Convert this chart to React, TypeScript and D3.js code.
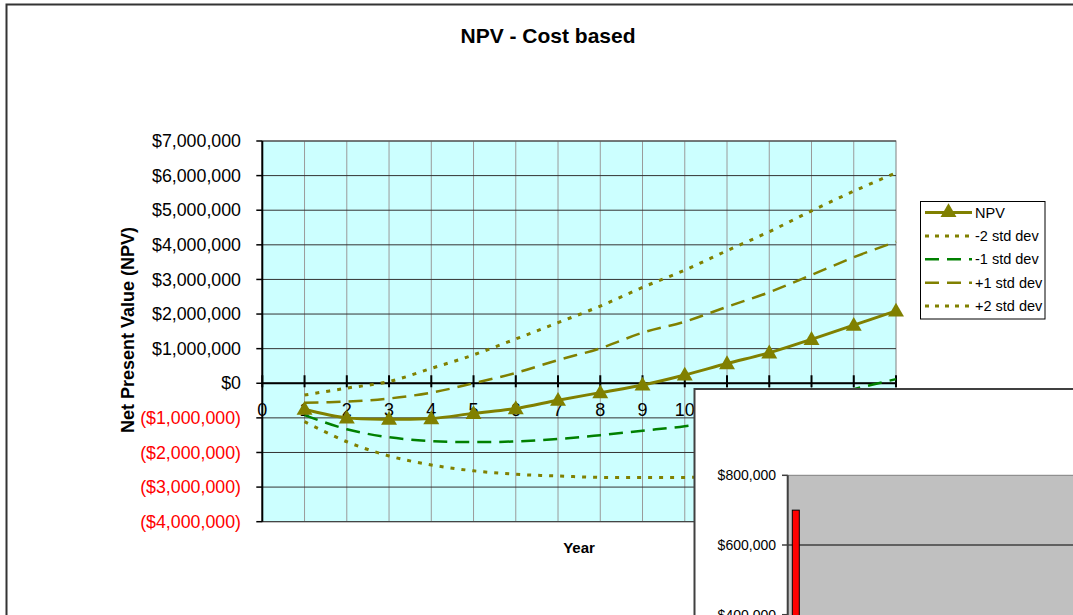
import React from "react";
import * as d3 from "d3";

const years = [1, 2, 3, 4, 5, 6, 7, 8, 9, 10, 11, 12, 13, 14, 15];
const npv = [-0.75, -1.0, -1.04, -1.02, -0.87, -0.73, -0.49, -0.27, -0.05, 0.24, 0.57, 0.88, 1.27, 1.68, 2.09].map((v) => v * 1e6);
const minus2 = [-1.11, -1.69, -2.1, -2.36, -2.53, -2.63, -2.68, -2.72, -2.72, -2.72, -2.7, -2.66, -2.6, -2.52, -2.42].map((v) => v * 1e6);
const minus1 = [-0.92, -1.33, -1.56, -1.67, -1.7, -1.68, -1.61, -1.5, -1.37, -1.24, -1.04, -0.79, -0.49, -0.17, 0.12].map((v) => v * 1e6);
const plus1 = [-0.56, -0.53, -0.44, -0.27, 0.0, 0.3, 0.67, 1.01, 1.46, 1.78, 2.21, 2.63, 3.13, 3.64, 4.09].map((v) => v * 1e6);
const plus2 = [-0.34, -0.14, 0.05, 0.43, 0.82, 1.28, 1.75, 2.23, 2.77, 3.27, 3.83, 4.38, 4.98, 5.55, 6.08].map((v) => v * 1e6);

const yTicks = [-4, -3, -2, -1, 0, 1, 2, 3, 4, 5, 6, 7].map((v) => v * 1e6);
const xTicks = [0, 1, 2, 3, 4, 5, 6, 7, 8, 9, 10, 11, 12, 13, 14, 15];

const legendNames = ["NPV", "-2 std dev", "-1 std dev", "+1 std dev", "+2 std dev"];

// overlay (second chart, partially visible)
const overlayValues = [700000];
const overlayTicks = [400000, 600000, 800000];

const OLIVE = "#808000";
const GREEN = "#008000";
const FONT = "'Liberation Sans', Arial, sans-serif";

const fmtMoney = (v: number) => {
  const f = d3.format(",.0f");
  if (v < 0) return `($${f(-v)})`;
  return `$${f(v)}`;
};

export default function App() {
  const x = d3.scaleLinear().domain([0, 15]).range([262.3, 896]);
  const y = d3.scaleLinear().domain([-4e6, 7e6]).range([521.7, 141]);

  const line = (vals: number[]) =>
    d3
      .line<number>()
      .x((_, i) => x(years[i]))
      .y((d) => y(d))
      .curve(d3.curveCatmullRom.alpha(0.5))(vals) as string;

  const series = [
    { name: legendNames[0], vals: npv, color: OLIVE, dash: "", w: 3, marker: true },
    { name: legendNames[1], vals: minus2, color: OLIVE, dash: "4,7", w: 3, marker: false },
    { name: legendNames[2], vals: minus1, color: GREEN, dash: "14,8", w: 2.5, marker: false },
    { name: legendNames[3], vals: plus1, color: OLIVE, dash: "14,8", w: 2.5, marker: false },
    { name: legendNames[4], vals: plus2, color: OLIVE, dash: "4,7", w: 3, marker: false },
  ];

  const tri = d3.symbol().type(d3.symbolTriangle).size(110)() as string;

  // overlay scales
  const oy = d3.scaleLinear().domain([400000, 800000]).range([614.7, 475.3]);
  const ox = d3.scaleLinear().domain([0, 1]).range([787.7, 830]);

  const plotL = x(0), plotR = x(15), plotT = y(7e6), plotB = y(-4e6);

  return (
    <svg
      width={1073}
      height={615}
      style={{ position: "fixed", left: 0, top: 0, background: "#fff" }}
      fontFamily={FONT}
    >
      {/* outer chart border */}
      <rect x={6.5} y={4.5} width={1100} height={700} fill="#fff" stroke="#333" strokeWidth={2} />

      <text x={548} y={43} textAnchor="middle" fontSize={21} fontWeight="bold">
        NPV - Cost based
      </text>

      {/* plot area */}
      <rect x={plotL} y={plotT} width={plotR - plotL} height={plotB - plotT} fill="#CCFFFF" stroke="#808080" strokeWidth={1} />

      {/* vertical gridlines */}
      {xTicks.slice(1, 15).map((t) => (
        <line key={"vg" + t} x1={x(t)} x2={x(t)} y1={plotT} y2={plotB} stroke="#9a9a9a" strokeWidth={1} />
      ))}
      {/* horizontal gridlines */}
      {yTicks.map((t) => (
        <line key={"hg" + t} x1={plotL} x2={plotR} y1={y(t)} y2={y(t)} stroke="#333" strokeWidth={1} />
      ))}

      {/* y axis */}
      <line x1={plotL} x2={plotL} y1={plotT} y2={plotB} stroke="#000" strokeWidth={2} />
      {yTicks.map((t) => (
        <g key={"yt" + t}>
          <line x1={plotL - 6} x2={plotL} y1={y(t)} y2={y(t)} stroke="#000" strokeWidth={1.5} />
          <text
            x={241}
            y={y(t)}
            dy="0.35em"
            textAnchor="end"
            fontSize={17.8}
            fill={t < 0 ? "#FF0000" : "#000"}
          >
            {fmtMoney(t)}
          </text>
        </g>
      ))}

      {/* x axis at zero */}
      <line x1={plotL} x2={plotR} y1={y(0)} y2={y(0)} stroke="#000" strokeWidth={2} />
      {xTicks.map((t) => (
        <g key={"xt" + t}>
          <line x1={x(t)} x2={x(t)} y1={y(0) - 8} y2={y(0) + 4} stroke="#000" strokeWidth={2} />
          <text x={x(t)} y={410} dy="0.35em" textAnchor="middle" fontSize={18} fill="#000">
            {t}
          </text>
        </g>
      ))}

      {/* series */}
      {series
        .slice()
        .reverse()
        .map((s) => (
          <path
            key={s.name}
            d={line(s.vals)}
            fill="none"
            stroke={s.color}
            strokeWidth={s.w}
            strokeDasharray={s.dash || undefined}
          />
        ))}
      {npv.map((v, i) => (
        <path key={"m" + i} d={tri} transform={`translate(${x(years[i])},${y(v) + 1})`} fill={OLIVE} />
      ))}

      {/* axis titles */}
      <text
        transform={`translate(128,330) rotate(-90)`}
        textAnchor="middle"
        dy="0.35em"
        fontSize={18}
        fontWeight="bold"
      >
        Net Present Value (NPV)
      </text>
      <text x={579} y={548} dy="0.35em" textAnchor="middle" fontSize={15} fontWeight="bold">
        Year
      </text>

      {/* legend */}
      <rect x={920.5} y={201.5} width={124.5} height={117.5} fill="#fff" stroke="#000" strokeWidth={1} />
      {series.map((s, i) => {
        const ly = 212.5 + i * 23.4;
        return (
          <g key={"lg" + s.name}>
            <line
              x1={925}
              x2={972}
              y1={ly}
              y2={ly}
              stroke={s.color}
              strokeWidth={s.w}
              strokeDasharray={s.marker ? undefined : s.dash === "4,7" ? "4,6" : "14,8"}
            />
            {s.marker && <path d={tri} transform={`translate(948.5,${ly})`} fill={OLIVE} />}
            <text x={975} y={ly} dy="0.35em" fontSize={14.5} fill="#000">
              {s.name}
            </text>
          </g>
        );
      })}

      {/* overlay second chart */}
      <rect x={694.5} y={389} width={500} height={400} fill="#fff" stroke="#404040" strokeWidth={2} />
      <rect x={787.7} y={oy(800000)} width={400} height={300} fill="#C0C0C0" stroke="#808080" strokeWidth={1} />
      <line x1={787.7} x2={1100} y1={oy(600000)} y2={oy(600000)} stroke="#000" strokeWidth={1} />
      {overlayValues.map((v, i) => (
        <rect
          key={"ob" + i}
          x={ox(i) + 4.6}
          y={oy(v)}
          width={7}
          height={oy(0) - oy(v)}
          fill="#FF0000"
          stroke="#000"
          strokeWidth={1}
        />
      ))}
      <line x1={787.7} x2={787.7} y1={oy(800000)} y2={700} stroke="#404040" strokeWidth={2} />
      {overlayTicks.map((t) => (
        <g key={"ot" + t}>
          <line x1={782} x2={787.7} y1={oy(t)} y2={oy(t)} stroke="#404040" strokeWidth={1.5} />
          <text x={776} y={oy(t)} dy="0.35em" textAnchor="end" fontSize={14} fill="#000">
            {"$" + d3.format(",.0f")(t)}
          </text>
        </g>
      ))}
    </svg>
  );
}
